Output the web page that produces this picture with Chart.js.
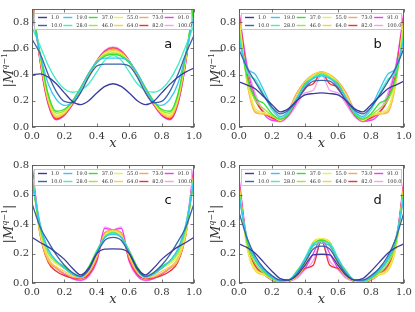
<!DOCTYPE html>
<html>
<head>
<meta charset="utf-8">
<script src="https://cdn.jsdelivr.net/npm/chart.js@4.4.0/dist/chart.umd.min.js"></script>
<style>
html, body { margin: 0; padding: 0; background: #fff; }
body { width: 415px; height: 312px; position: relative; overflow: hidden; }
.panel { position: absolute; }
</style>
</head>
<body>
<div class="panel" style="left:0;top:0;width:205px;height:155px"><canvas id="pa"></canvas></div>
<div class="panel" style="left:205px;top:0;width:210px;height:155px"><canvas id="pb"></canvas></div>
<div class="panel" style="left:0;top:155px;width:205px;height:157px"><canvas id="pc"></canvas></div>
<div class="panel" style="left:205px;top:155px;width:210px;height:157px"><canvas id="pd"></canvas></div>
<script>
// x grid shared by all panels
const xs = [0, 0.05, 0.1, 0.15, 0.2, 0.25, 0.3, 0.35, 0.4, 0.45, 0.5, 0.55, 0.6, 0.65, 0.7, 0.75, 0.8, 0.85, 0.9, 0.95, 1.0];
const qLabels = ['1.0', '10.0', '19.0', '28.0', '37.0', '46.0', '55.0', '64.0', '73.0', '82.0', '91.0', '100.0'];
const qColors = ['#3b3b9f', '#3a64a6', '#38c4f4', '#44ecc6', '#33e033', '#9ee832', '#e6f24a', '#fad043', '#f9a65a', '#ef3131', '#ef3cef', '#f2a2f0'];
const xTicks = [0, 0.2, 0.4, 0.6, 0.8, 1.0];

// panel a, one row per q
const aVals = [
    [0.40,0.405,0.38,0.33,0.26,0.195,0.17,0.20,0.26,0.31,0.33,0.31,0.26,0.20,0.17,0.195,0.26,0.325,0.38,0.42,0.45],
    [0.67,0.56,0.40,0.27,0.195,0.185,0.26,0.38,0.465,0.48,0.48,0.48,0.465,0.38,0.26,0.185,0.195,0.27,0.40,0.56,0.70],
    [0.86,0.56,0.33,0.21,0.165,0.19,0.29,0.41,0.50,0.525,0.525,0.525,0.50,0.41,0.29,0.19,0.165,0.21,0.33,0.56,0.86],
    [0.76,0.62,0.47,0.36,0.29,0.265,0.28,0.33,0.42,0.51,0.545,0.51,0.42,0.33,0.28,0.265,0.29,0.36,0.47,0.62,0.78],
    [0.93,0.56,0.25,0.12,0.135,0.20,0.30,0.41,0.49,0.54,0.555,0.54,0.49,0.41,0.30,0.20,0.135,0.12,0.25,0.56,0.93],
    [0.95,0.55,0.235,0.105,0.125,0.195,0.295,0.41,0.495,0.55,0.565,0.55,0.495,0.41,0.295,0.195,0.125,0.105,0.235,0.55,0.95],
    [0.96,0.54,0.22,0.09,0.115,0.19,0.29,0.405,0.50,0.56,0.575,0.56,0.50,0.405,0.29,0.19,0.115,0.09,0.22,0.54,0.96],
    [0.97,0.53,0.21,0.08,0.105,0.185,0.285,0.40,0.50,0.565,0.585,0.565,0.50,0.40,0.285,0.185,0.105,0.08,0.21,0.53,0.97],
    [0.98,0.52,0.195,0.07,0.10,0.18,0.28,0.40,0.50,0.57,0.595,0.57,0.50,0.40,0.28,0.18,0.10,0.07,0.195,0.52,0.98],
    [0.99,0.51,0.185,0.063,0.095,0.175,0.275,0.395,0.505,0.575,0.60,0.575,0.505,0.395,0.275,0.175,0.095,0.063,0.185,0.51,0.99],
    [1.00,0.50,0.175,0.057,0.09,0.17,0.27,0.395,0.505,0.58,0.605,0.58,0.505,0.395,0.27,0.17,0.09,0.057,0.175,0.50,1.00],
    [1.01,0.50,0.17,0.054,0.088,0.17,0.27,0.395,0.505,0.585,0.61,0.585,0.505,0.395,0.27,0.17,0.088,0.054,0.17,0.50,1.01]
];

// panel b
const bVals = [
    [0.345,0.32,0.29,0.23,0.17,0.115,0.14,0.20,0.245,0.255,0.26,0.255,0.245,0.20,0.14,0.115,0.17,0.23,0.29,0.32,0.35],
    [0.59,0.45,0.34,0.24,0.15,0.10,0.13,0.20,0.29,0.35,0.355,0.35,0.29,0.20,0.13,0.10,0.15,0.24,0.34,0.45,0.60],
    [0.65,0.45,0.40,0.28,0.15,0.08,0.12,0.22,0.32,0.37,0.39,0.37,0.32,0.22,0.12,0.08,0.15,0.28,0.40,0.45,0.66],
    [0.70,0.42,0.36,0.25,0.13,0.07,0.11,0.21,0.32,0.38,0.40,0.38,0.32,0.21,0.11,0.07,0.13,0.25,0.36,0.42,0.70],
    [0.70,0.38,0.22,0.18,0.10,0.06,0.10,0.21,0.33,0.37,0.40,0.37,0.33,0.21,0.10,0.06,0.10,0.18,0.22,0.38,0.70],
    [0.76,0.36,0.20,0.14,0.09,0.06,0.10,0.22,0.33,0.38,0.41,0.38,0.33,0.22,0.10,0.06,0.09,0.14,0.20,0.36,0.76],
    [0.80,0.36,0.14,0.11,0.09,0.05,0.11,0.23,0.33,0.39,0.41,0.39,0.33,0.23,0.11,0.05,0.09,0.11,0.14,0.36,0.80],
    [0.83,0.34,0.12,0.10,0.09,0.05,0.12,0.24,0.34,0.40,0.42,0.40,0.34,0.24,0.12,0.05,0.09,0.10,0.12,0.34,0.83],
    [0.85,0.33,0.11,0.10,0.08,0.05,0.13,0.26,0.35,0.40,0.42,0.40,0.35,0.26,0.13,0.05,0.08,0.10,0.11,0.33,0.85],
    [0.86,0.40,0.20,0.11,0.07,0.05,0.10,0.20,0.30,0.33,0.41,0.33,0.30,0.20,0.10,0.05,0.07,0.11,0.20,0.40,0.86],
    [0.88,0.45,0.22,0.10,0.05,0.045,0.09,0.19,0.30,0.38,0.42,0.38,0.30,0.19,0.09,0.045,0.05,0.10,0.22,0.45,0.88],
    [0.85,0.47,0.25,0.12,0.06,0.04,0.08,0.17,0.26,0.28,0.40,0.28,0.26,0.17,0.08,0.04,0.06,0.12,0.25,0.47,0.85]
];

// panel c
const cVals = [
    [0.31,0.275,0.245,0.205,0.16,0.10,0.055,0.10,0.20,0.23,0.232,0.23,0.20,0.10,0.055,0.10,0.16,0.205,0.245,0.275,0.31],
    [0.54,0.38,0.28,0.19,0.12,0.07,0.045,0.09,0.20,0.29,0.31,0.29,0.20,0.09,0.045,0.07,0.12,0.19,0.28,0.38,0.54],
    [0.70,0.40,0.23,0.15,0.10,0.06,0.04,0.09,0.21,0.31,0.33,0.31,0.21,0.09,0.04,0.06,0.10,0.15,0.23,0.40,0.70],
    [0.72,0.40,0.22,0.15,0.10,0.06,0.04,0.09,0.21,0.31,0.34,0.31,0.21,0.09,0.04,0.06,0.10,0.15,0.22,0.40,0.72],
    [0.69,0.38,0.22,0.15,0.11,0.065,0.045,0.11,0.22,0.31,0.34,0.31,0.22,0.11,0.045,0.065,0.11,0.15,0.22,0.38,0.69],
    [0.72,0.36,0.20,0.14,0.11,0.07,0.045,0.10,0.21,0.31,0.345,0.31,0.21,0.10,0.045,0.07,0.11,0.14,0.20,0.36,0.72],
    [0.73,0.35,0.18,0.13,0.10,0.06,0.04,0.09,0.20,0.32,0.35,0.32,0.20,0.09,0.04,0.06,0.10,0.13,0.18,0.35,0.73],
    [0.74,0.34,0.16,0.11,0.08,0.05,0.035,0.08,0.19,0.33,0.355,0.33,0.19,0.08,0.035,0.05,0.08,0.11,0.16,0.34,0.74],
    [0.75,0.33,0.15,0.10,0.065,0.04,0.035,0.07,0.17,0.34,0.36,0.34,0.17,0.07,0.035,0.04,0.065,0.10,0.15,0.33,0.75],
    [0.76,0.33,0.14,0.08,0.05,0.035,0.03,0.06,0.16,0.34,0.355,0.34,0.16,0.06,0.03,0.035,0.05,0.08,0.14,0.33,0.76],
    [0.79,0.36,0.16,0.10,0.06,0.03,0.02,0.05,0.15,0.37,0.36,0.37,0.15,0.05,0.02,0.03,0.06,0.10,0.16,0.36,0.79],
    [0.80,0.37,0.17,0.10,0.06,0.03,0.015,0.045,0.14,0.38,0.36,0.38,0.14,0.045,0.015,0.03,0.06,0.10,0.17,0.37,0.80]
];

// panel d
const dVals = [
    [0.265,0.24,0.20,0.14,0.08,0.03,0.02,0.05,0.12,0.19,0.195,0.19,0.12,0.05,0.02,0.03,0.08,0.14,0.20,0.24,0.265],
    [0.48,0.30,0.18,0.10,0.05,0.02,0.02,0.06,0.14,0.23,0.25,0.23,0.14,0.06,0.02,0.02,0.05,0.10,0.18,0.30,0.48],
    [0.58,0.30,0.16,0.09,0.04,0.015,0.02,0.07,0.16,0.25,0.27,0.25,0.16,0.07,0.02,0.015,0.04,0.09,0.16,0.30,0.58],
    [0.60,0.30,0.16,0.09,0.04,0.015,0.02,0.07,0.17,0.27,0.28,0.27,0.17,0.07,0.02,0.015,0.04,0.09,0.16,0.30,0.60],
    [0.61,0.28,0.15,0.08,0.035,0.015,0.02,0.08,0.16,0.26,0.29,0.26,0.16,0.08,0.02,0.015,0.035,0.08,0.15,0.28,0.61],
    [0.63,0.26,0.13,0.07,0.03,0.01,0.02,0.07,0.15,0.26,0.29,0.26,0.15,0.07,0.02,0.01,0.03,0.07,0.13,0.26,0.63],
    [0.64,0.24,0.09,0.06,0.03,0.01,0.015,0.05,0.13,0.27,0.30,0.27,0.13,0.05,0.015,0.01,0.03,0.06,0.09,0.24,0.64],
    [0.66,0.23,0.08,0.055,0.025,0.01,0.015,0.04,0.12,0.28,0.30,0.28,0.12,0.04,0.015,0.01,0.025,0.055,0.08,0.23,0.66],
    [0.67,0.24,0.10,0.06,0.025,0.01,0.015,0.05,0.12,0.26,0.295,0.26,0.12,0.05,0.015,0.01,0.025,0.06,0.10,0.24,0.67],
    [0.68,0.26,0.11,0.06,0.025,0.01,0.015,0.04,0.10,0.12,0.29,0.12,0.10,0.04,0.015,0.01,0.025,0.06,0.11,0.26,0.68],
    [0.70,0.27,0.12,0.06,0.02,0.005,0.01,0.04,0.10,0.20,0.30,0.20,0.10,0.04,0.01,0.005,0.02,0.06,0.12,0.27,0.70],
    [0.72,0.28,0.12,0.06,0.02,0.005,0.01,0.03,0.09,0.15,0.28,0.15,0.09,0.03,0.01,0.005,0.02,0.06,0.12,0.28,0.64]
];

const SERIF = '"DejaVu Serif", serif';

// frame, inward ticks, legend box, panel letter, axis titles
const decorPlugin = {
    id: 'decor',
    afterDatasetsDraw(chart) {
        const ctx = chart.ctx;
        const ca = chart.chartArea;
        const xs_ = chart.scales.x, ys_ = chart.scales.y;
        ctx.save();

        // legend box
        const bx = ca.left + 2, bw = ca.right - ca.left - 4;
        const by = ca.top + 4, bh = 17;
        ctx.fillStyle = 'rgba(255,255,255,0.92)';
        ctx.fillRect(bx, by, bw, bh);
        ctx.strokeStyle = '#bbb';
        ctx.lineWidth = 0.8;
        ctx.strokeRect(bx + 0.5, by + 0.5, bw - 1, bh - 1);
        const colW = (bw - 6) / 6;
        ctx.font = '5px ' + SERIF;
        ctx.textBaseline = 'middle';
        ctx.textAlign = 'left';
        qLabels.forEach((lab, i) => {
            const col = Math.floor(i / 2), row = i % 2;
            const lx = bx + 4 + col * colW;
            const ly = by + 4.5 + row * 8;
            ctx.strokeStyle = qColors[i];
            ctx.lineWidth = 1.4;
            ctx.beginPath();
            ctx.moveTo(lx, ly);
            ctx.lineTo(lx + 9, ly);
            ctx.stroke();
            ctx.fillStyle = '#333';
            ctx.fillText(lab, lx + 13, ly + 0.5);
        });

        // frame
        ctx.strokeStyle = '#666';
        ctx.lineWidth = 1;
        ctx.strokeRect(ca.left + 0.5, ca.top + 0.5, ca.right - ca.left - 1, ca.bottom - ca.top - 1);

        // inward ticks on all four sides
        ctx.strokeStyle = '#555';
        ctx.lineWidth = 0.8;
        ctx.beginPath();
        xTicks.forEach(v => {
            const px = Math.round(xs_.getPixelForValue(v)) + 0.5;
            ctx.moveTo(px, ca.bottom); ctx.lineTo(px, ca.bottom - 3.5);
            ctx.moveTo(px, ca.top); ctx.lineTo(px, ca.top + 3.5);
        });
        ys_.ticks.forEach(t => {
            const py = Math.round(ys_.getPixelForValue(t.value)) + 0.5;
            ctx.moveTo(ca.left, py); ctx.lineTo(ca.left + 3.5, py);
            ctx.moveTo(ca.right, py); ctx.lineTo(ca.right - 3.5, py);
        });
        ctx.stroke();

        // panel letter
        const letter = chart.options.plugins.decor.letter;
        ctx.fillStyle = '#111';
        ctx.font = '13px "DejaVu Sans", sans-serif';
        ctx.textAlign = 'center';
        ctx.textBaseline = 'middle';
        ctx.fillText(letter, ca.left + 0.84 * (ca.right - ca.left), ca.top + 0.30 * (ca.bottom - ca.top));

        // x axis title
        ctx.fillStyle = '#333';
        ctx.font = 'italic 13px ' + SERIF;
        ctx.fillText('x', (ca.left + ca.right) / 2, ca.bottom + 17);

        // y axis title |M^{q-1}|
        ctx.translate(ca.left - 22, (ca.top + ca.bottom) / 2);
        ctx.rotate(-Math.PI / 2);
        const parts = [
            { t: '|', f: '13px ' + SERIF, dy: 0 },
            { t: 'M', f: 'italic 13px ' + SERIF, dy: 0 },
            { t: 'q', f: 'italic 8px ' + SERIF, dy: -5 },
            { t: '\u22121', f: '8px ' + SERIF, dy: -5 },
            { t: '|', f: '13px ' + SERIF, dy: 0 }
        ];
        let total = 0;
        parts.forEach(p => { ctx.font = p.f; p.w = ctx.measureText(p.t).width; total += p.w; });
        let cx = -total / 2;
        ctx.textAlign = 'left';
        ctx.textBaseline = 'middle';
        parts.forEach(p => {
            ctx.font = p.f;
            ctx.fillText(p.t, cx, p.dy);
            cx += p.w;
        });
        ctx.restore();
    }
};

function makeSets(rows) {
    return rows.map((row, i) => ({
        label: qLabels[i],
        data: xs.map((x, j) => ({ x: x, y: row[j] })),
        borderColor: qColors[i],
        backgroundColor: qColors[i],
        borderWidth: 1.3,
        pointRadius: 0,
        fill: false,
        cubicInterpolationMode: 'monotone'
    }));
}

function makePanel(id, rows, ymax, letter, yW, padRight, padTop, xH) {
    const ctx = document.getElementById(id).getContext('2d');
    return new Chart(ctx, {
        type: 'line',
        data: { datasets: makeSets(rows) },
        options: {
            responsive: true, maintainAspectRatio: false, animation: false,
            layout: { padding: { left: 0, right: padRight, top: padTop, bottom: 0 } },
            scales: {
                x: {
                    type: 'linear', min: 0, max: 1,
                    grid: { display: false, drawTicks: false },
                    border: { display: false },
                    ticks: { stepSize: 0.2, padding: 3, color: '#333', font: { family: SERIF, size: 10 }, callback: v => v.toFixed(1), maxRotation: 0 },
                    afterFit: s => { s.height = xH; }
                },
                y: {
                    min: 0, max: ymax,
                    grid: { display: false, drawTicks: false },
                    border: { display: false },
                    ticks: { stepSize: 0.1, padding: 3, color: '#333', font: { family: SERIF, size: 10 }, callback: v => v.toFixed(1) },
                    afterFit: s => { s.width = yW; }
                }
            },
            plugins: {
                legend: { display: false },
                tooltip: { enabled: false },
                decor: { letter: letter }
            }
        },
        plugins: [decorPlugin]
    });
}

makePanel('pa', aVals, 0.9, 'a', 32, 8, 6, 28);
makePanel('pb', bVals, 0.9, 'b', 34, 11, 6, 28);
makePanel('pc', cVals, 0.8, 'c', 32, 8, 10, 29);
makePanel('pd', dVals, 0.8, 'd', 34, 11, 10, 29);
</script>
</body>
</html>
